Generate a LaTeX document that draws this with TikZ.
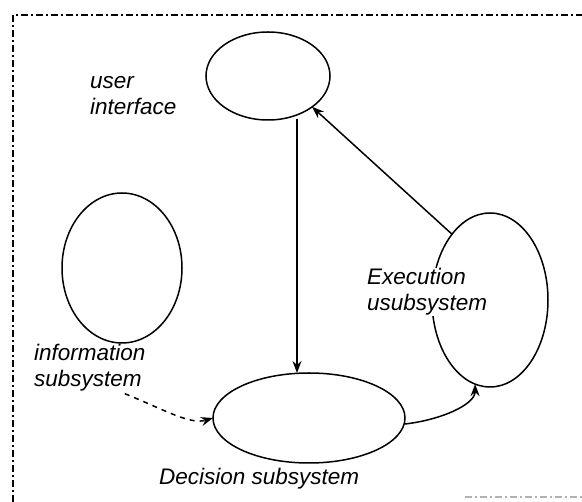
\documentclass[tikz,border=0pt]{standalone}
\usepackage{fontspec}
\setmainfont{Liberation Sans}
\usetikzlibrary{arrows.meta,shapes.geometric}
\begin{document}
\begin{tikzpicture}[x=1pt,y=-1pt,
  ell/.style={draw, line width=1.5pt, ellipse, inner sep=0pt, outer sep=0pt},
  lbl/.style={font=\fontsize{22.5}{26}\selectfont\itshape, align=left, anchor=west, inner sep=1pt},
  conn/.style={line width=1.5pt, -{Stealth[length=12pt,width=9pt]}},
  frame/.style={line width=1.3pt, dash pattern=on 7pt off 3pt on 2pt off 3pt}]
\useasboundingbox (0,0) rectangle (582,502);
\fill[white] (0,0) rectangle (582,502);
% frame
\coordinate (fbl) at (13,502);
\coordinate (ftl) at (13,15);
\coordinate (ftr) at (582,15);
\draw[frame] (fbl) -- (ftl) -- (ftr);
\coordinate (fb1) at (465,497);
\coordinate (fb2) at (582,497);
\draw[frame, gray!60] (fb1) -- (fb2);
% ellipses
\node[ell, minimum width=124pt, minimum height=88pt] (ui) at (268,76) {};
\node[ell, minimum width=120pt, minimum height=150pt] (info) at (122,268) {};
\node[ell, minimum width=192pt, minimum height=90pt] (dec) at (309,418) {};
\node[ell, minimum width=116pt, minimum height=174pt] (exe) at (490,300) {};
% labels
\node[lbl] (tui) at (89,96) {user\\interface};
\node[lbl, fill=white] (texe) at (366,292) {Execution\\usubsystem};
\node[lbl] (tinfo) at (33,368) {information\\subsystem};
\node[lbl] (tdec) at (158,479) {Decision subsystem};
% connectors
\draw[conn] (ui.south -| 297,0) ++(0,-1) -- (dec.north -| 297,0);
\draw[conn] (exe.120) -- (ui.-35);
\draw[conn] (dec.east) ++(0,6) .. controls (440,420) and (475,405) .. (exe.-100);
\draw[conn, dash pattern=on 5pt off 5pt] (tinfo.south) ++(35,1) .. controls (165,410) and (190,425) .. (dec.west);
\end{tikzpicture}
\end{document}
